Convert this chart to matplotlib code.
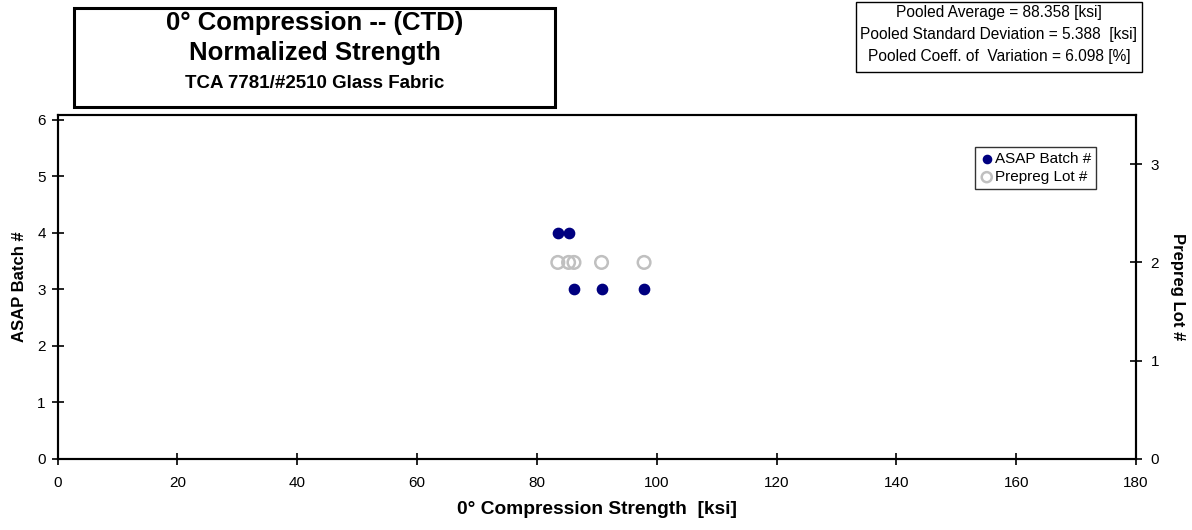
import matplotlib
matplotlib.use("Agg")
import matplotlib.pyplot as plt
from matplotlib.patches import Rectangle

plt.rcParams['font.family'] = ['Liberation Sans', 'DejaVu Sans']

# Data
batch_strength = [83.5, 85.3, 86.2, 90.8, 97.9]
batch_number = [4, 4, 3, 3, 3]
lot_strength = [83.5, 85.3, 86.2, 90.8, 97.9]
lot_number = [2, 2, 2, 2, 2]

x_ticks = [0, 20, 40, 60, 80, 100, 120, 140, 160, 180]
y_left_ticks = [0, 1, 2, 3, 4, 5, 6]
y_right_ticks = [0, 1, 2, 3]

W, H = 1192, 530
fig = plt.figure(figsize=(W / 100, H / 100), dpi=100)
ax = fig.add_axes([57.5 / W, 1 - 459 / H, (1136 - 57.5) / W, (459 - 115) / H])
ax2 = ax.twinx()

h1 = ax.scatter(batch_strength, batch_number, s=55, color='#000080', zorder=3,
                label='ASAP Batch #', clip_on=False)
h2 = ax2.scatter(lot_strength, lot_number, s=82, facecolors='none',
                 edgecolors='#C0C0C0', linewidths=1.8, zorder=3,
                 label='Prepreg Lot #', clip_on=False)

ax.set_xlim(0, 180)
ax.set_ylim(0, 6.08)
ax2.set_ylim(0, 3.5)
ax.set_xticks(x_ticks)
ax.set_yticks(y_left_ticks)
ax2.set_yticks(y_right_ticks)

for a in (ax, ax2):
    for s in a.spines.values():
        s.set_linewidth(1.5)
    a.tick_params(direction='inout', length=9, width=1.2, labelsize=11)
ax.tick_params(axis='x', pad=8)
ax.tick_params(axis='y', pad=4)
ax2.tick_params(axis='y', pad=6)

ax.set_xlabel('0° Compression Strength  [ksi]', fontsize=13.8, fontweight='bold', labelpad=8)
ax.set_ylabel('ASAP Batch #', fontsize=12, fontweight='bold', labelpad=7)
ax2.set_ylabel('Prepreg Lot #', fontsize=12, fontweight='bold', rotation=270, labelpad=19)

leg = ax2.legend(handles=[h1, h2], loc='upper right',
                 bbox_to_anchor=((1096 - 57.5) / (1136 - 57.5), (459 - 147) / (459 - 115)),
                 frameon=True, fancybox=False, edgecolor='black', fontsize=11,
                 handletextpad=0.1, borderpad=0.3, labelspacing=0.3,
                 handlelength=0.9, borderaxespad=0, markerscale=0.8)
leg.get_frame().set_linewidth(1.0)

# Title box
fig.patches.append(Rectangle((74 / W, 1 - 107 / H), (555 - 74) / W, (107 - 8) / H,
                             transform=fig.transFigure, fill=True, facecolor='white',
                             edgecolor='black', linewidth=2.2, zorder=5))
cx = (74 + 555) / 2 / W
fig.text(cx, 1 - 23 / H, '0° Compression -- (CTD)', ha='center', va='center',
         fontsize=18.5, fontweight='bold', zorder=6)
fig.text(cx, 1 - 53 / H, 'Normalized Strength', ha='center', va='center',
         fontsize=18.5, fontweight='bold', zorder=6)
fig.text(cx, 1 - 84 / H, 'TCA 7781/#2510 Glass Fabric', ha='center', va='center',
         fontsize=13.5, fontweight='bold', zorder=6)

# Stats box
fig.patches.append(Rectangle((856 / W, 1 - 72 / H), (1142 - 856) / W, (72 - 2) / H,
                             transform=fig.transFigure, fill=True, facecolor='white',
                             edgecolor='black', linewidth=1.0, zorder=5))
sx = (856 + 1142) / 2 / W
fig.text(sx, 1 - 13 / H, 'Pooled Average = 88.358 [ksi]', ha='center', va='center',
         fontsize=11.2, zorder=6)
fig.text(sx, 1 - 35 / H, 'Pooled Standard Deviation = 5.388  [ksi]', ha='center', va='center',
         fontsize=11.2, zorder=6)
fig.text(sx, 1 - 56 / H, 'Pooled Coeff. of  Variation = 6.098 [%]', ha='center', va='center',
         fontsize=11.2, zorder=6)

fig.savefig('out.png', dpi=100)
